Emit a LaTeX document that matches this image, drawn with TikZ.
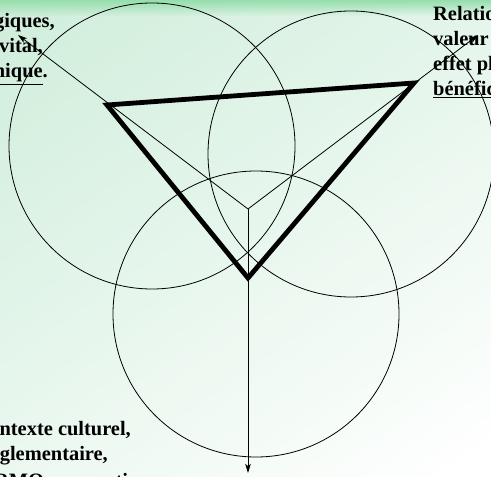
\documentclass[tikz,border=0pt]{standalone}
\usepackage{fontspec}
\setmainfont{Liberation Serif}
\usetikzlibrary{arrows.meta,fadings}
\definecolor{mintbg}{RGB}{208,238,219}
\definecolor{bandgreen}{RGB}{150,222,172}
\tikzfading[name=fadedown, top color=transparent!0, bottom color=transparent!100]
\begin{document}
\begin{tikzpicture}[x=1bp,y=-1bp,
  ring/.style={draw=black, line width=0.8bp},
  ray/.style={draw=black, line width=0.8bp, -{Stealth[length=9bp,width=5.5bp,inset=2bp]}},
  tri/.style={draw=black, line width=4.8bp, line join=miter},
  lbl/.style={font=\bfseries\fontsize{20.5}{25}\selectfont, inner sep=0pt}]
\useasboundingbox (0,0) rectangle (491,477);
\clip (0,0) rectangle (491,477);
% background
\fill[white] (0,0) rectangle (491,477);
\shade[shading=axis, top color=mintbg, bottom color=white, shading angle=35] (-100,-60) rectangle (560,560);
\fill[bandgreen, path fading=fadedown] (0,0) rectangle (491,16);
% geometry
\coordinate (c) at (248,209);
\coordinate (A) at (107,105);
\coordinate (B) at (414,83);
\coordinate (C) at (248,278);
\coordinate (eA) at (18,35);
\coordinate (eB) at (478,35);
\coordinate (eC) at (248,473);
\coordinate (o1) at (152,146);
\coordinate (o2) at (351,154);
\coordinate (o3) at (256,314);
% circles
\draw[ring] (o1) circle[radius=143];
\draw[ring] (o2) circle[radius=143];
\draw[ring] (o3) circle[radius=143];
% rays
\draw[ray] (c) -- (eA);
\draw[ray] (c) -- (eB);
\draw[ray] (c) -- (eC);
% triangle
\draw[tri] (A) -- (B) -- (C) -- cycle;
% texts
\node[lbl, anchor=base east] (t1) at (55,28) {giques,};
\node[lbl, anchor=base east] (t2) at (43,53) {vital,};
\node[lbl, anchor=base east] (t3) at (48,78) {\underline{nique}.};
\node[lbl, anchor=base west] (r1) at (433,21) {Relation};
\node[lbl, anchor=base west] (r2) at (433,46) {valeur};
\node[lbl, anchor=base west] (r3) at (433,71) {effet placebo};
\node[lbl, anchor=base west] (r4) at (433,96) {\underline{bénéfice}};
\node[lbl, anchor=base east] (b1) at (131,435) {ntexte culturel,};
\node[lbl, anchor=base east] (b2) at (108,460) {glementaire,};
\node[lbl, anchor=base west] (b3) at (-6,487) {RMO, convention};
\end{tikzpicture}
\end{document}
